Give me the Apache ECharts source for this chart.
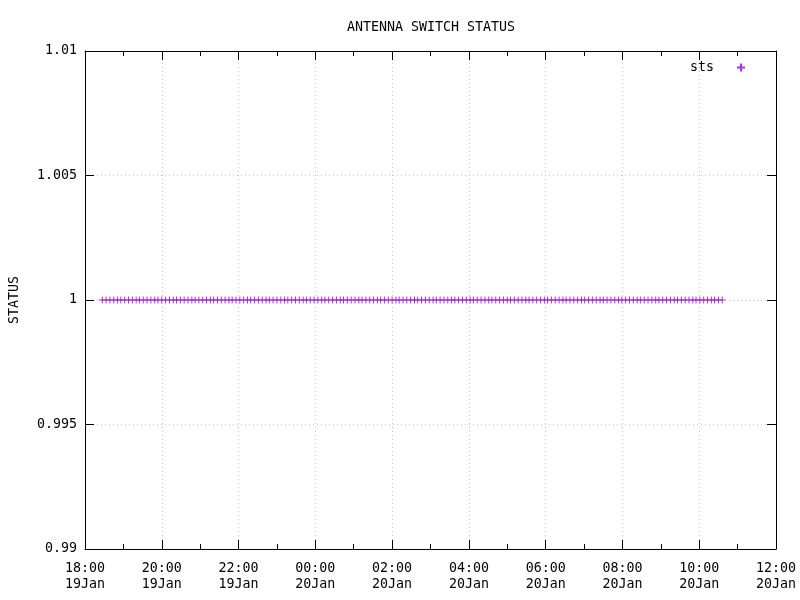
<!DOCTYPE html>
<html>
<head>
<meta charset="utf-8">
<script src="https://cdn.jsdelivr.net/npm/echarts@6/dist/echarts.min.js"></script>
<style>
html, body { margin: 0; padding: 0; background: #fff; }
#chart { width: 800px; height: 600px; }
</style>
</head>
<body>
<div id="chart"></div>
<script>
const chartTitle = 'ANTENNA SWITCH STATUS';
const yAxisName = 'STATUS';
const seriesName = 'sts';

// sample times, minutes after 18:00 on 19Jan
const sampleMinutes = [
    27, 33, 39, 45, 51, 56, 62, 68, 74, 80,
    85, 91, 97, 103, 109, 114, 120, 126, 132, 138,
    143, 149, 155, 161, 167, 172, 178, 184, 190, 196,
    201, 207, 213, 219, 225, 230, 236, 242, 248, 254,
    259, 265, 271, 277, 283, 288, 294, 300, 306, 312,
    317, 323, 329, 335, 341, 346, 352, 358, 364, 370,
    375, 381, 387, 393, 399, 404, 410, 416, 422, 428,
    433, 439, 445, 451, 457, 462, 468, 474, 480, 486,
    491, 497, 503, 509, 515, 520, 526, 532, 538, 544,
    549, 555, 561, 567, 573, 578, 584, 590, 596, 602,
    607, 613, 619, 625, 631, 636, 642, 648, 654, 660,
    665, 671, 677, 683, 689, 694, 700, 706, 712, 718,
    723, 729, 735, 741, 747, 752, 758, 764, 770, 776,
    781, 787, 793, 799, 805, 810, 816, 822, 828, 834,
    839, 845, 851, 857, 863, 868, 874, 880, 886, 892,
    897, 903, 909, 915, 921, 926, 932, 938, 944, 950,
    955, 961, 967, 973, 979, 984, 990, 996
];
const stsValues = [
    1, 1, 1, 1, 1, 1, 1, 1, 1, 1,
    1, 1, 1, 1, 1, 1, 1, 1, 1, 1,
    1, 1, 1, 1, 1, 1, 1, 1, 1, 1,
    1, 1, 1, 1, 1, 1, 1, 1, 1, 1,
    1, 1, 1, 1, 1, 1, 1, 1, 1, 1,
    1, 1, 1, 1, 1, 1, 1, 1, 1, 1,
    1, 1, 1, 1, 1, 1, 1, 1, 1, 1,
    1, 1, 1, 1, 1, 1, 1, 1, 1, 1,
    1, 1, 1, 1, 1, 1, 1, 1, 1, 1,
    1, 1, 1, 1, 1, 1, 1, 1, 1, 1,
    1, 1, 1, 1, 1, 1, 1, 1, 1, 1,
    1, 1, 1, 1, 1, 1, 1, 1, 1, 1,
    1, 1, 1, 1, 1, 1, 1, 1, 1, 1,
    1, 1, 1, 1, 1, 1, 1, 1, 1, 1,
    1, 1, 1, 1, 1, 1, 1, 1, 1, 1,
    1, 1, 1, 1, 1, 1, 1, 1, 1, 1,
    1, 1, 1, 1, 1, 1, 1, 1
];
const xTickLabels = [
    '18:00\n19Jan', '20:00\n19Jan', '22:00\n19Jan', '00:00\n20Jan', '02:00\n20Jan',
    '04:00\n20Jan', '06:00\n20Jan', '08:00\n20Jan', '10:00\n20Jan', '12:00\n20Jan'
];
const yTickLabels = ['0.99', '0.995', '1', '1.005', '1.01'];

const font = 'DejaVu Sans Mono';
const fontSize = 13.3;
const plus = 'path://M0,5L10,5M5,0L5,10';
const purple = '#9400d3';

let chart = echarts.init(document.getElementById('chart'));

let gridLine = {
    show: true,
    lineStyle: { color: '#c4c4c4', type: [1, 3], width: 1 }
};
let axisLine = { show: true, onZero: false, lineStyle: { color: '#000', width: 1 } };
let majorTick = { show: true, inside: true, length: 9, lineStyle: { color: '#000' } };
let minorTick = { show: true, splitNumber: 2, length: 5, lineStyle: { color: '#000' } };

let option = {
    animation: false,
    backgroundColor: '#fff',
    title: {
        text: chartTitle,
        left: 347,
        top: 21,
        padding: 0,
        textStyle: { fontFamily: font, fontSize: fontSize, fontWeight: 'normal', color: '#000' }
    },
    legend: {
        right: 49,
        top: 56,
        align: 'right',
        itemWidth: 8,
        itemHeight: 8,
        textStyle: { fontFamily: font, fontSize: fontSize, color: '#000', padding: [0, 18, 0, 0] },
        data: [{ name: seriesName, icon: plus }]
    },
    grid: { left: 85, right: 24, top: 51, bottom: 51 },
    xAxis: [{
        type: 'value',
        min: 0,
        max: 1080,
        interval: 120,
        axisLine: axisLine,
        axisTick: majorTick,
        minorTick: minorTick,
        splitLine: gridLine,
        axisLabel: {
            fontFamily: font, fontSize: fontSize, color: '#000', margin: 12, lineHeight: 16,
            formatter: v => xTickLabels[Math.round(v / 120)]
        }
    }, {
        type: 'value',
        position: 'top',
        min: 0,
        max: 1080,
        interval: 120,
        axisLine: axisLine,
        axisTick: majorTick,
        minorTick: minorTick,
        splitLine: { show: false },
        axisLabel: { show: false }
    }],
    yAxis: [{
        type: 'value',
        min: 0.99,
        max: 1.01,
        interval: 0.005,
        name: yAxisName,
        nameLocation: 'middle',
        nameRotate: 90,
        nameGap: 64,
        nameTextStyle: { fontFamily: font, fontSize: fontSize, color: '#000' },
        axisLine: axisLine,
        axisTick: majorTick,
        splitLine: gridLine,
        axisLabel: {
            fontFamily: font, fontSize: fontSize, color: '#000', margin: 8,
            formatter: v => yTickLabels[Math.round((v - 0.99) / 0.005)]
        }
    }, {
        type: 'value',
        position: 'right',
        min: 0.99,
        max: 1.01,
        interval: 0.005,
        axisLine: axisLine,
        axisTick: majorTick,
        splitLine: { show: false },
        axisLabel: { show: false }
    }],
    series: [{
        name: seriesName,
        type: 'scatter',
        symbol: plus,
        symbolSize: 7,
        itemStyle: { color: purple, borderColor: purple, borderWidth: 1 },
        data: sampleMinutes.map((m, i) => [m, stsValues[i]])
    }]
};

chart.setOption(option);
</script>
</body>
</html>
